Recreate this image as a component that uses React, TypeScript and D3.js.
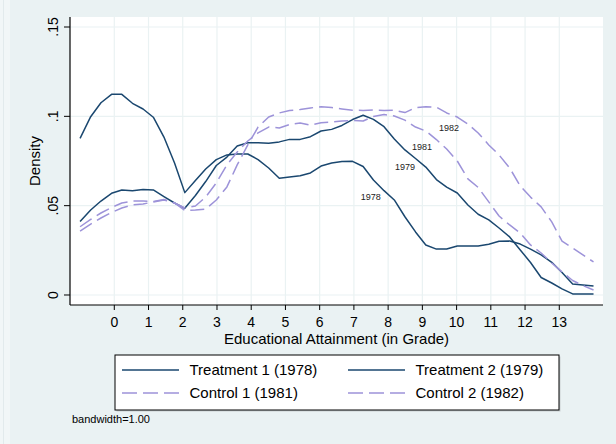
import * as d3 from 'd3';

// evaluation grid (grade) and kernel density estimates
const grade = [-1.00, -0.69, -0.39, -0.08, 0.22, 0.53, 0.84, 1.14, 1.45, 1.76, 2.06, 2.37, 2.67, 2.98, 3.29, 3.59, 3.90, 4.20, 4.51, 4.82, 5.12, 5.43, 5.73, 6.04, 6.35, 6.65, 6.96, 7.27, 7.57, 7.88, 8.18, 8.49, 8.80, 9.10, 9.41, 9.71, 10.02, 10.33, 10.63, 10.94, 11.24, 11.55, 11.86, 12.16, 12.47, 12.78, 13.08, 13.39, 13.69, 14.00];

const treat1978 = [
  .0877, .0998, .1076, .1123, .1123, .1073, .1041, .0995, .0884, .0739,
  .0573, .0641, .0705, .0758, .0784, .0789, .0789, .0758, .0711, .0653,
  .0660, .0668, .0683, .0722, .0739, .0747, .0748, .0719, .0644, .0584,
  .0532, .0438, .0353, .0280, .0257, .0257, .0274, .0274, .0274, .0284,
  .0301, .0302, .0285, .0257, .0225, .0183, .0126, .0062, .0056, .0050];

const treat1979 = [
  .0411, .0476, .0526, .0569, .0588, .0584, .0590, .0588, .0551, .0515,
  .0485, .0557, .0635, .0725, .0772, .0834, .0852, .0852, .0849, .0857,
  .0871, .0871, .0886, .0918, .0927, .0949, .0982, .1006, .0983, .0942,
  .0873, .0812, .0764, .0716, .0646, .0604, .0571, .0504, .0452, .0420,
  .0375, .0325, .0252, .0182, .0098, .0067, .0034, .0006, .0006, .0006];

const ctrl1981 = [
  .0382, .0423, .0459, .0490, .0515, .0526, .0526, .0523, .0535, .0515,
  .0487, .0498, .0548, .0627, .0728, .0800, .0862, .0907, .0940, .0935,
  .0954, .0963, .0951, .0964, .0968, .0974, .0977, .0974, .0999, .1010,
  .1002, .0979, .0940, .0918, .0870, .0817, .0750, .0650, .0602, .0521,
  .0442, .0392, .0347, .0280, .0235, .0179, .0129, .0081, .0053, .0028];

const ctrl1982 = [
  .0358, .0397, .0431, .0462, .0487, .0504, .0509, .0521, .0532, .0515,
  .0473, .0476, .0481, .0532, .0605, .0728, .0840, .0940, .0996, .1019,
  .1033, .1038, .1047, .1054, .1049, .1041, .1034, .1033, .1035, .1033,
  .1034, .1021, .1049, .1054, .1051, .1019, .0996, .0957, .0907, .0840,
  .0784, .0711, .0610, .0548, .0493, .0409, .0302, .0263, .0224, .0185];

const seriesNames = ['Treatment 1 (1978)', 'Treatment 2 (1979)', 'Control 1 (1981)', 'Control 2 (1982)'];
const seriesValues = [treat1978, treat1979, ctrl1981, ctrl1982];

// in-plot text labels: year, grade, density
const labelYears = ['1978', '1979', '1981', '1982'];
const labelGrade = [7.49, 8.49, 8.99, 9.78];
const labelDensity = [0.0547, 0.0715, 0.0827, 0.0936];

const xTicks = [0, 1, 2, 3, 4, 5, 6, 7, 8, 9, 10, 11, 12, 13];
const yTicks = [0, 0.05, 0.1, 0.15];
const yTickLabels = ['0', '.05', '.1', '.15'];

const W = 616;
const H = 444;
const plot = { left: 70, right: 603, top: 17, bottom: 305 };
const font = '"Liberation Sans", Arial, sans-serif';
const bg = '#eaf2f3';
const navy = '#1a476f';
const lavender = '#9d93d9';

const App = () => {
  const x = d3.scaleLinear().domain([-1.294, 14.277]).range([plot.left, plot.right]);
  const y = d3.scaleLinear().domain([-0.0056, 0.1556]).range([plot.bottom, plot.top]);

  const line = d3.line<number>()
    .x((_, i) => x(grade[i]))
    .y(d => y(d));

  const styles = [
    { stroke: navy, dash: null },
    { stroke: navy, dash: null },
    { stroke: lavender, dash: '14 6' },
    { stroke: lavender, dash: '14 6' },
  ];

  // legend layout
  const lg = { left: 115, top: 355, width: 444, height: 55 };
  const colX = [122, 348];
  const rowY = [370, 393];

  return (
    <svg width={W} height={H} style={{ position: 'absolute', left: 0, top: 0 }} fontFamily={font}>
      <rect x={0} y={0} width={W} height={H} fill={bg} />
      <rect x={0} y={0} width={10} height={H} fill="#f1f6f7" />
      <line x1={3.5} x2={3.5} y1={0} y2={H} stroke="#e2eaec" />

      <rect x={plot.left} y={plot.top} width={plot.right - plot.left} height={plot.bottom - plot.top} fill="#fff" />

      {/* grid */}
      <g stroke={bg} strokeWidth={1.2}>
        {yTicks.map(t => (
          <line key={'gy' + t} x1={plot.left} x2={plot.right} y1={y(t)} y2={y(t)} />
        ))}
        {xTicks.map(t => (
          <line key={'gx' + t} x1={x(t)} x2={x(t)} y1={plot.top} y2={plot.bottom} />
        ))}
      </g>

      {/* series */}
      {seriesValues.map((vals, i) => (
        <path key={seriesNames[i]} d={line(vals) || ''} fill="none"
          stroke={styles[i].stroke} strokeWidth={1.5}
          strokeDasharray={styles[i].dash || undefined} strokeLinejoin="round" />
      ))}

      {labelYears.map((t, i) => (
        <text key={t} x={x(labelGrade[i])} y={y(labelDensity[i])} dy="0.35em"
          textAnchor="middle" fontSize={9} fill="#222">{t}</text>
      ))}

      {/* axes */}
      <line x1={plot.left} x2={plot.left} y1={plot.top} y2={plot.bottom} stroke="#000" strokeWidth={1.2} />
      <line x1={plot.left} x2={plot.right} y1={plot.bottom} y2={plot.bottom} stroke="#000" strokeWidth={1.2} />
      {yTicks.map((t, i) => (
        <g key={'yt' + t}>
          <line x1={plot.left - 6} x2={plot.left} y1={y(t)} y2={y(t)} stroke="#000" />
          <text transform={`translate(57.5,${y(t)}) rotate(-90)`} textAnchor="middle" fontSize={14} fill="#000">
            {yTickLabels[i]}
          </text>
        </g>
      ))}
      {xTicks.map(t => (
        <g key={'xt' + t}>
          <line x1={x(t)} x2={x(t)} y1={plot.bottom} y2={plot.bottom + 5} stroke="#000" />
          <text x={x(t)} y={327} textAnchor="middle" fontSize={14} fill="#000">{t}</text>
        </g>
      ))}
      <text transform={`translate(39.5,${(plot.top + plot.bottom) / 2}) rotate(-90)`} textAnchor="middle" fontSize={15} fill="#000">
        Density
      </text>
      <text x={(plot.left + plot.right) / 2} y={344} textAnchor="middle" fontSize={15} fill="#000">
        Educational Attainment (in Grade)
      </text>

      {/* legend */}
      <rect x={lg.left + 1.5} y={lg.top + 1.5} width={lg.width} height={lg.height} fill="#c9d0d2" />
      <rect x={lg.left} y={lg.top} width={lg.width} height={lg.height} fill="#fff" stroke="#000" strokeWidth={1} />
      {seriesNames.map((name, i) => {
        const cx = colX[i % 2];
        const cy = rowY[Math.floor(i / 2)];
        return (
          <g key={'lg' + name}>
            <line x1={cx} x2={cx + 57} y1={cy} y2={cy} stroke={styles[i].stroke} strokeWidth={1.5}
              strokeDasharray={styles[i].dash ? '15 6' : undefined} />
            <text x={cx + 67.5} y={cy} dy="0.35em" fontSize={15} fill="#000">{name}</text>
          </g>
        );
      })}

      <text x={72} y={423} fontSize={11} fill="#000">bandwidth=1.00</text>
    </svg>
  );
};

export default App;
